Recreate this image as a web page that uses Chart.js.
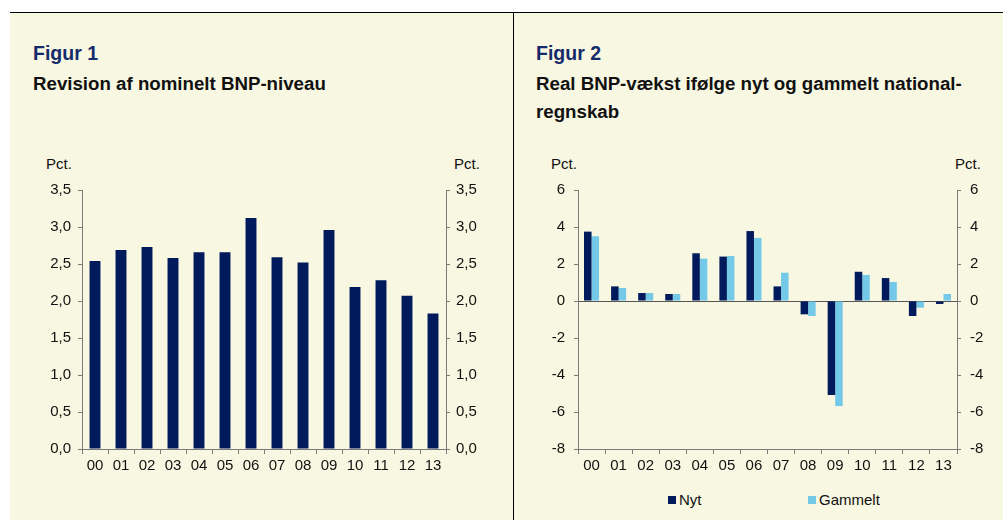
<!DOCTYPE html>
<html lang="da">
<head>
<meta charset="UTF-8">
<title>Figur 1 og Figur 2</title>
<script src="https://cdn.jsdelivr.net/npm/chart.js"></script>
<style>
    body { margin: 0; background: #fff; font-family: 'Liberation Sans', Arial, sans-serif; }
    .page { position: relative; width: 1003px; height: 520px; overflow: hidden; }
    .panel { position: absolute; top: 12px; bottom: 0; background: #f8f7e1; border-top: 1px solid #000; }
    #p1 { left: 10px; width: 503px; }
    #p2 { left: 513px; right: 0; border-left: 1px solid #000; }
    .fig { position: absolute; font-weight: bold; font-size: 19.5px; color: #152b6b; line-height: 20px; }
    .sub { position: absolute; font-weight: bold; font-size: 18.7px; color: #111; line-height: 28px; }
    .pct { position: absolute; font-size: 15px; color: #111; line-height: 16px; }
    .chart { position: absolute; }
    .legend { position: absolute; font-size: 15px; color: #111; line-height: 16px; }
    .legend span.box { display: inline-block; width: 8px; height: 8px; margin-right: 3px; vertical-align: 1px; }
</style>
</head>
<body>
<div class="page">
    <div class="panel" id="p1"></div>
    <div class="panel" id="p2"></div>

    <div class="fig" style="left:33px; top:43px;">Figur 1</div>
    <div class="sub" style="left:33px; top:70px;">Revision af nominelt BNP-niveau</div>
    <div class="pct" style="left:46px; top:156px;">Pct.</div>
    <div class="pct" style="left:454px; top:156px;">Pct.</div>
    <div class="chart" style="left:30px; top:170px; width:470px; height:300px;"><canvas id="chart1"></canvas></div>

    <div class="fig" style="left:536px; top:43px;">Figur 2</div>
    <div class="sub" style="left:536px; top:70px;">Real BNP-vækst ifølge nyt og gammelt national-<br>regnskab</div>
    <div class="pct" style="left:551px; top:156px;">Pct.</div>
    <div class="pct" style="left:955px; top:156px;">Pct.</div>
    <div class="chart" style="left:530px; top:170px; width:473px; height:300px;"><canvas id="chart2"></canvas></div>

    <div class="legend" style="left:668px; top:492px;"><span class="box" style="background:#001a5c"></span>Nyt</div>
    <div class="legend" style="left:808px; top:492px;"><span class="box" style="background:#74c8e8"></span>Gammelt</div>
</div>

<script>
// data
const years = ['00', '01', '02', '03', '04', '05', '06', '07', '08', '09', '10', '11', '12', '13'];
const revision = [2.54, 2.69, 2.73, 2.58, 2.66, 2.66, 3.12, 2.59, 2.52, 2.96, 2.19, 2.28, 2.07, 1.83];
const nyt = [3.75, 0.79, 0.43, 0.38, 2.58, 2.40, 3.78, 0.79, -0.72, -5.08, 1.58, 1.24, -0.81, -0.16];
const gammelt = [3.50, 0.70, 0.43, 0.38, 2.29, 2.43, 3.41, 1.53, -0.81, -5.68, 1.41, 1.03, -0.36, 0.38];

const NAVY = '#001a5c';
const LIGHT = '#74c8e8';
const AXIS = '#7a7a7a';
const tickFont = { family: "'Liberation Sans', Arial, sans-serif", size: 15 };

Chart.defaults.animation = false;
Chart.defaults.color = '#111';

function xAxis() {
    return {
        grid: { display: true, drawOnChartArea: false, drawTicks: true, tickLength: 5, tickColor: AXIS, offset: true },
        border: { display: true, color: AXIS },
        ticks: { font: tickFont, padding: 3, maxRotation: 0, autoSkip: false },
        afterFit: s => { s.height = 21; }
    };
}

function yAxis(pos, min, max, step, width, pad, fmt, zeroLine) {
    return {
        position: pos,
        min: min, max: max,
        grid: {
            drawOnChartArea: !!zeroLine,
            color: c => (zeroLine && c.tick && c.tick.value === 0) ? '#555' : 'rgba(0,0,0,0)',
            tickColor: AXIS,
            tickLength: 4
        },
        border: { display: true, color: AXIS },
        ticks: { stepSize: step, font: tickFont, padding: pad, callback: fmt },
        afterFit: s => { s.width = width; }
    };
}

const comma = v => v.toFixed(1).replace('.', ',');
const plain = v => String(v);

new Chart(document.getElementById('chart1'), {
    type: 'bar',
    data: {
        labels: years,
        datasets: [{ label: 'Revision', data: revision, backgroundColor: NAVY, barPercentage: 0.42, categoryPercentage: 1 }]
    },
    options: {
        responsive: true,
        maintainAspectRatio: false,
        layout: { padding: { top: 20, left: 0, right: 0, bottom: 0 } },
        plugins: { legend: { display: false }, tooltip: { enabled: false } },
        scales: {
            x: xAxis(),
            y: yAxis('left', 0, 3.5, 0.5, 52, 7, comma, false),
            y2: yAxis('right', 0, 3.5, 0.5, 54, 6, comma, false)
        }
    }
});

new Chart(document.getElementById('chart2'), {
    type: 'bar',
    data: {
        labels: years,
        datasets: [
            { label: 'Nyt', data: nyt, backgroundColor: NAVY, barPercentage: 1, categoryPercentage: 0.555 },
            { label: 'Gammelt', data: gammelt, backgroundColor: LIGHT, barPercentage: 1, categoryPercentage: 0.555 }
        ]
    },
    options: {
        responsive: true,
        maintainAspectRatio: false,
        layout: { padding: { top: 20, left: 0, right: 0, bottom: 0 } },
        plugins: { legend: { display: false }, tooltip: { enabled: false } },
        scales: {
            x: xAxis(),
            y: yAxis('left', -8, 6, 2, 48, 9, plain, true),
            y2: yAxis('right', -8, 6, 2, 46, 9, plain, false)
        }
    }
});
</script>
</body>
</html>
